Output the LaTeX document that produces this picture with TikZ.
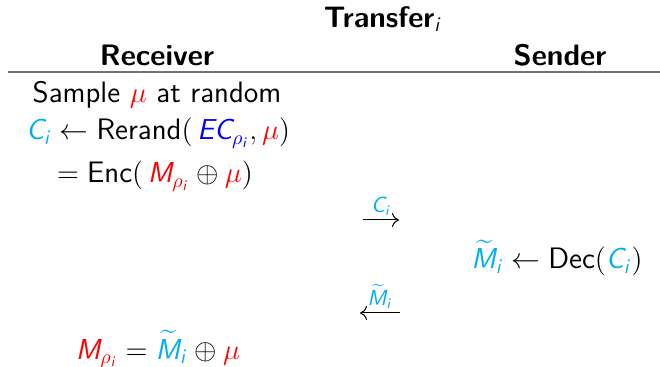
\documentclass[tikz,border=0pt]{standalone}
\usepackage{amsmath,amssymb}
\usepackage{tikz}
\usetikzlibrary{positioning,arrows.meta}
% sans italic latin letters in math, greek stays cmmi
\DeclareSymbolFont{sfit}{OT1}{cmss}{m}{sl}
\DeclareMathSymbol{C}{\mathalpha}{sfit}{`C}
\DeclareMathSymbol{E}{\mathalpha}{sfit}{`E}
\DeclareMathSymbol{M}{\mathalpha}{sfit}{`M}
\DeclareMathSymbol{i}{\mathalpha}{sfit}{`i}
\definecolor{ctcyan}{RGB}{0,174,239}
\tikzset{
  txt/.style={font=\fontsize{14.8}{17}\selectfont\sffamily,inner sep=1pt},
  hdr/.style={txt,font=\fontsize{14.8}{17}\selectfont\sffamily\bfseries},
  msg/.style={-{To[length=3.5pt,width=7pt]},line width=0.5pt},
  mlbl/.style={txt,font=\fontsize{10.5}{12}\selectfont\sffamily},
  hrule/.style={line width=1.1pt,black!55},
}
\newcommand{\cc}[1]{\textcolor{ctcyan}{#1}}
\newcommand{\rr}[1]{\textcolor{red}{#1}}
\newcommand{\bb}[1]{\textcolor{blue}{#1}}

\begin{document}
\begin{tikzpicture}[x=0.5pt,y=0.5pt]
  \useasboundingbox (0,0) rectangle (660,367);
  % header
  \node[hdr] (title) at (383,348) {Transfer$_i$};
  \node[hdr] (recv) at (157,312) {Receiver};
  \node[hdr] (send) at (560,312) {Sender};
  \coordinate (ruleL) at (8,295);
  \coordinate (ruleR) at (660,295);
  \draw[hrule] (ruleL) -- (ruleR);
  % receiver side
  \node[txt] (samp) at (157,272) {Sample $\rr{\mu}$ at random};
  \node[txt] (rer) at (158,234) {$\cc{C_i} \leftarrow \textsf{Rerand}(\,\bb{EC_{\rho_i}}, \rr{\mu})$};
  \node[txt] (enc) at (155,191) {$= \textsf{Enc}(\,\rr{M_{\rho_i}} \oplus \rr{\mu})$};
  % sender side
  \node[txt] (dec) at (557,109) {$\cc{\widetilde{M}_i} \leftarrow \textsf{Dec}(\cc{C_i})$};
  \node[txt] (fin) at (158,18) {$\rr{M_{\rho_i}} = \cc{\widetilde{M}_i} \oplus \rr{\mu}$};
  % messages
  \coordinate (m1a) at (363,147);
  \coordinate (m1b) at (399,147);
  \coordinate (m2a) at (400,54);
  \coordinate (m2b) at (360,54);
  \draw[msg] (m1a) -- node[mlbl,above=1pt] (c1) {$\cc{C_i}$} (m1b);
  \draw[msg] (m2a) -- node[mlbl,above=1pt] (c2) {$\cc{\widetilde{M}_i}$} (m2b);
\end{tikzpicture}
\end{document}
